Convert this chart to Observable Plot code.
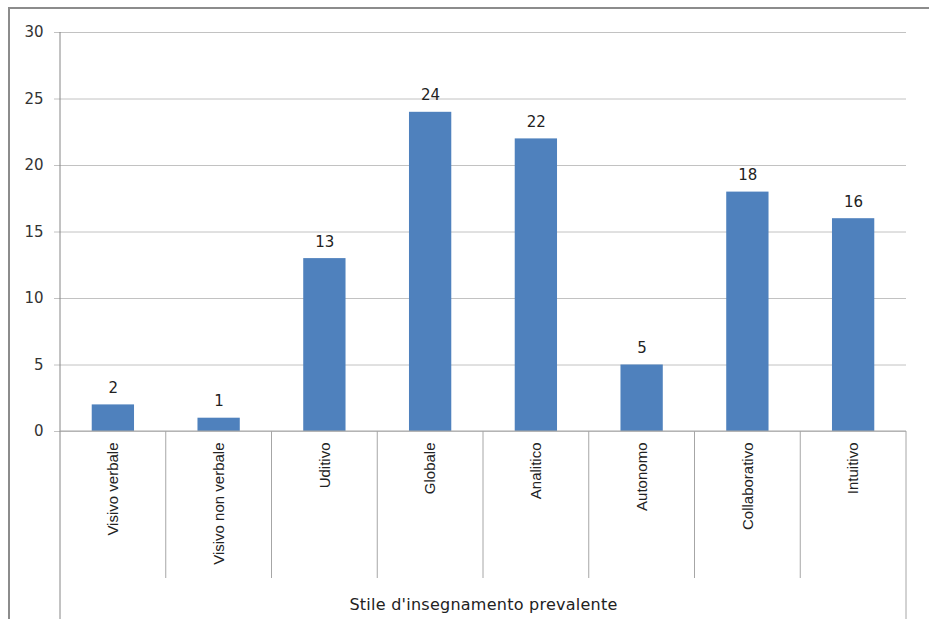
<!DOCTYPE html>
<html><head><meta charset="utf-8">
<script src="https://cdn.jsdelivr.net/npm/d3@7"></script>
<script src="https://cdn.jsdelivr.net/npm/@observablehq/plot@0.6"></script>
<style>
body{margin:0;background:#fff;}
#wrap{position:relative;width:929px;height:619px;overflow:hidden;}
#frame{position:absolute;left:8px;top:7px;right:-10px;bottom:-10px;border-left:2px solid #8c8c8c;border-top:2px solid #8c8c8c;}
#chart{position:absolute;left:0;top:0;}
.axtitle text{letter-spacing:0.25px;}
</style></head><body>
<div id="wrap"><div id="frame"></div><div id="chart"></div></div>
<script>
const categories = ["Visivo verbale","Visivo non verbale","Uditivo","Globale","Analitico","Autonomo","Collaborativo","Intuitivo"];
const values = [2, 1, 13, 24, 22, 5, 18, 16];
const yTicks = [0, 5, 10, 15, 20, 25, 30];
const axisTitle = "Stile d'insegnamento prevalente";
const data = categories.map((c, i) => ({category: c, value: values[i]}));

function separators(index, scales, channels, dims) {
  const x = scales.x, y = scales.y;
  const left = dims.marginLeft, right = dims.width - dims.marginRight;
  const step = (right - left) / categories.length;
  const half = (step - x.bandwidth()) / 2;
  const y0 = y(0);
  const g = d3.create("svg:g");
  const edges = categories.map(c => x(c) - half);
  edges.push(x(categories[categories.length - 1]) + x.bandwidth() + half);
  edges.forEach((e, i) => {
    const outer = i === 0 || i === edges.length - 1;
    g.append("line")
      .attr("x1", e).attr("x2", e)
      .attr("y1", i === 0 ? y(30) : y0)
      .attr("y2", outer ? dims.height : y0 + 147)
      .attr("stroke", i === 0 ? "#868686" : "#a6a6a6")
      .attr("stroke-width", 1);
  });
  g.append("line").attr("x1", left).attr("x2", right).attr("y1", y0).attr("y2", y0)
    .attr("stroke", "#a6a6a6");
  return g.node();
}

const chart = Plot.plot({
  width: 929,
  height: 619,
  marginLeft: 60,
  marginRight: 23,
  marginTop: 32,
  marginBottom: 188,
  style: {fontFamily: "DejaVu Sans, Verdana, sans-serif", fontSize: "15px", color: "#333", background: "transparent"},
  x: {domain: categories, paddingInner: 0.6, paddingOuter: 0.3, round: false, label: null},
  y: {domain: [0, 30], label: null},
  marks: [
    Plot.ruleY(yTicks, {y: d => d, stroke: "#c2c2c2", strokeWidth: 1, insetLeft: -6}),
    Plot.axisY({ticks: yTicks, tickSize: 0, tickPadding: 17, label: null, fontSize: 15, fill: "#333"}),
    Plot.barY(data, {x: "category", y: "value", fill: "#4F81BD"}),
    Plot.text(data, {x: "category", y: "value", text: d => String(d.value), lineAnchor: "bottom", dy: -12, fontSize: 15, fill: "#222"}),
    Plot.axisX({tickSize: 0, tickRotate: -90, tickPadding: 11, label: null, fontSize: 15, fontFamily: "Liberation Sans Narrow, Arial Narrow, sans-serif", fill: "#222"}),
    separators,
    Plot.text([axisTitle], {frameAnchor: "bottom", dy: 178, fontSize: 16, fill: "#222", className: "axtitle"})
  ]
});
document.getElementById("chart").appendChild(chart);
</script>
</body></html>
